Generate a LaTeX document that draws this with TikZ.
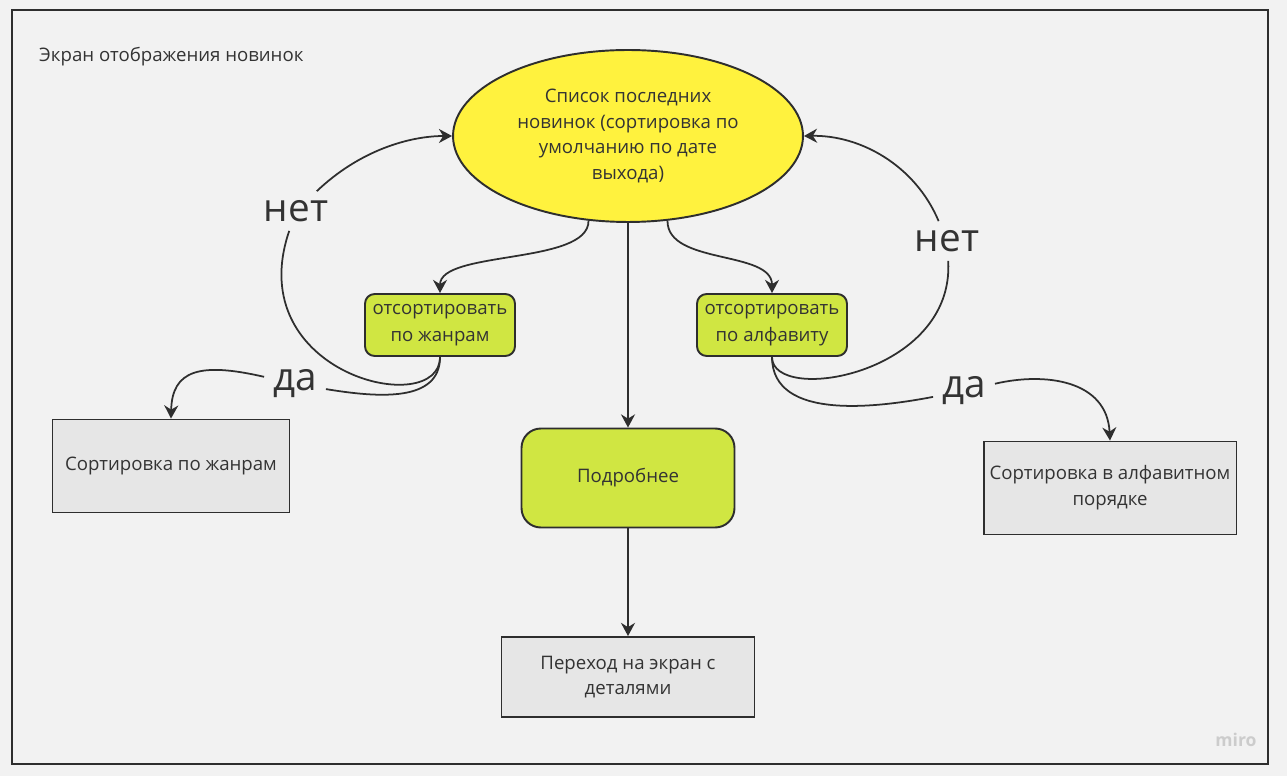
\documentclass[tikz,border=0pt]{standalone}
\usepackage{fontspec}
\setmainfont{Open Sans}
\usepackage{tikz}
\usetikzlibrary{shapes.geometric,arrows.meta}
\definecolor{bgcol}{HTML}{F2F2F2}
\definecolor{txt}{HTML}{333333}
\definecolor{linecol}{HTML}{2E2E2E}
\definecolor{listyel}{HTML}{FFF23E}
\definecolor{lime}{HTML}{D0E642}
\definecolor{boxgray}{HTML}{E6E6E6}
\begin{document}
\begin{tikzpicture}[x=0.02cm,y=-0.02cm,
  every node/.style={font=\fontsize{10.6}{14.7}\selectfont, text=txt, align=center},
  grn/.style={draw=linecol, line width=1.1pt, fill=lime, rounded corners=5.5pt},
  gry/.style={draw=linecol, line width=1.1pt, fill=boxgray},
  word/.style={font=\fontsize{22}{26}\selectfont, inner sep=5pt},
  conn/.style={draw=linecol, line width=1pt, ->, >={Stealth[length=7.5pt,width=8pt]}},
  plain/.style={draw=linecol, line width=1pt}]

\useasboundingbox[fill=bgcol] (0,0) rectangle (1287,776);
\draw[linecol, line width=1.1pt] (12,10) rectangle (1268,764);

\node[anchor=west] (title) at (33,57) {Экран отображения новинок};

\node[ellipse, draw=linecol, line width=1.1pt, fill=listyel, minimum width=7cm, minimum height=3.44cm, inner sep=0pt] (list) at (628,136) {Список последних\\новинок (сортировка по\\умолчанию по дате\\выхода)};

\node[grn, minimum width=3cm, minimum height=1.24cm, inner sep=1pt] (genre) at (440,325) {отсортировать\\[1pt]по жанрам};
\node[grn, minimum width=3cm, minimum height=1.24cm, inner sep=1pt] (alpha) at (772,325) {отсортировать\\[1pt]по алфавиту};

\node[grn, rounded corners=11pt, minimum width=4.26cm, minimum height=1.98cm] (more) at (628,478) {Подробнее};

\node[gry, minimum width=4.74cm, minimum height=1.86cm] (bygenre) at (171,466) {Сортировка по жанрам};
\node[gry, minimum width=5.06cm, minimum height=1.86cm] (byalpha) at (1110,488) {Сортировка в алфавитном\\порядке};
\node[gry, minimum width=5.06cm, minimum height=1.6cm] (details) at (628,677) {Переход на экран с\\деталями};

\node[word] (no1) at (296,211) {нет};
\node[word] (yes1) at (295,384) {да};
\node[word] (no2) at (947,241) {нет};
\node[word] (yes2) at (964,391) {да};

\node[font=\fontsize{10}{12}\selectfont\bfseries, text=black!20] (miro) at (1236,740) {miro};

% list -> choices
\draw[conn] (list.245) .. controls (589,265) and (440,250) .. (genre.north);
\draw[conn] (list.295) .. controls (667,265) and (772,250) .. (alpha.north);
\draw[conn] (list.south) -- (more.north);
\draw[conn] (more.south) -- (details.north);

% genre branch
\draw[plain] (genre.south) .. controls (440,420) and (240,375) .. (no1);
\draw[conn] (no1) .. controls (360,150) and (410,136) .. (list.west);
\draw[plain] (genre.south) .. controls (440,402) and (380,398) .. (yes1);
\draw[conn] (yes1) .. controls (200,362) and (172,370) .. (bygenre.north);

% alphabet branch
\draw[plain] (alpha.south) .. controls (772,405) and (955,375) .. (no2);
\draw[conn] (no2) .. controls (915,165) and (860,135) .. (list.east);
\draw[plain] (alpha.south) .. controls (772,422) and (880,407) .. (yes2);
\draw[conn] (yes2) .. controls (1045,372) and (1107,380) .. (byalpha.north);
\end{tikzpicture}
\end{document}
